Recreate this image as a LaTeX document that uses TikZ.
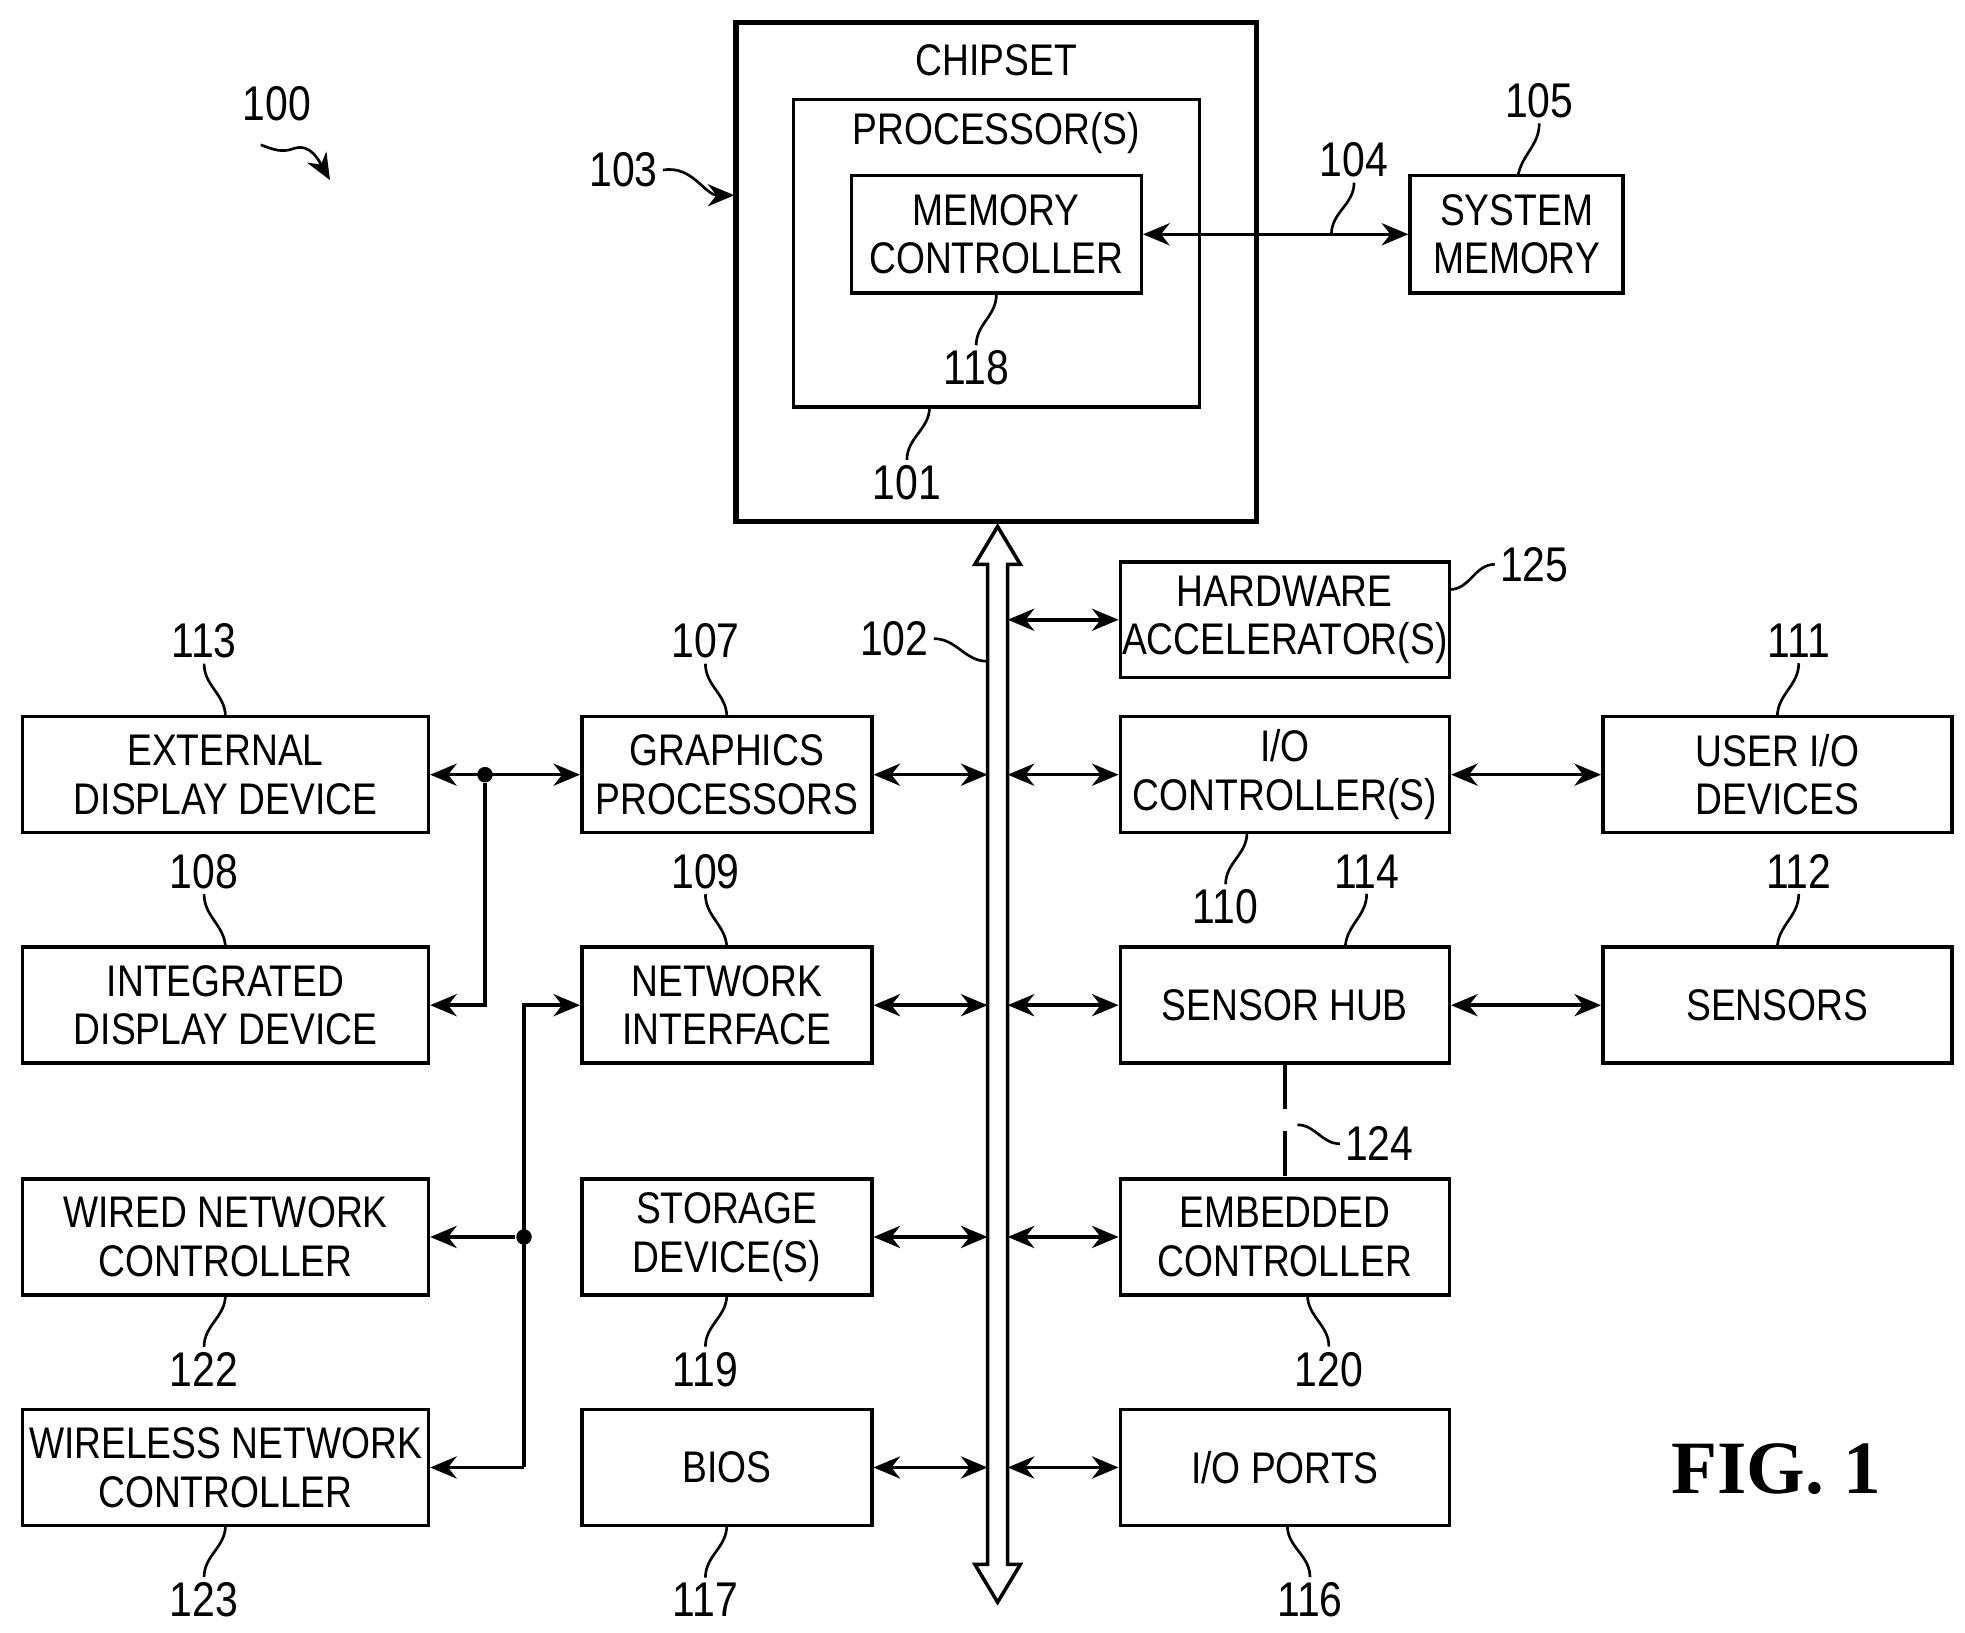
\documentclass[tikz,border=0pt]{standalone}
\usepackage{fontspec}
\setmainfont{Liberation Sans}[FakeStretch=0.84]
\usetikzlibrary{arrows.meta}
\tikzset{
  box/.style={draw, thick, align=center, inner sep=0pt, font=\fontsize{10}{11}\selectfont},
  num/.style={font=\fontsize{11}{12}\selectfont, inner sep=1pt},
  lead/.style={semithick},
  link/.style={thick, {Stealth[length=6pt,width=5pt]}-{Stealth[length=6pt,width=5pt]}},
  dot/.style={circle, fill, inner sep=0pt, minimum size=3.5pt}
}
\begin{document}
\begin{tikzpicture}[x=0.01cm, y=-0.01cm]
	\useasboundingbox (0,0) rectangle (1560,1296);
	% chipset
	\node[box, line width=1.2pt, minimum width=4.13cm, minimum height=3.96cm] (chip) at (791,216) {};
	\node[font=\fontsize{10}{11}\selectfont] (chiplbl) at (791,48) {CHIPSET};
	\node[box, minimum width=3.22cm, minimum height=2.44cm] (proc) at (791,201) {};
	\node[font=\fontsize{10}{11}\selectfont] (proclbl) at (791,106) {PROCESSOR(S)};
	\node[box, minimum width=2.30cm, minimum height=0.93cm] (memc) at (791,186) {MEMORY\\CONTROLLER};
	\node[box, minimum width=1.69cm, minimum height=0.93cm] (smem) at (1204,186) {SYSTEM\\MEMORY};
	\draw[link] (memc.east) -- (smem.west);
	% bus
	\coordinate (busT) at (792,418);
	\coordinate (busB) at (792,1272);
	\draw[thick] (busT) -- (810,448) -- (800,448) -- (800,1242) -- (810,1242) -- (busB)
		-- (774,1242) -- (784,1242) -- (784,448) -- (774,448) -- cycle;
	\coordinate (busL) at (784,0);
	\coordinate (busR) at (800,0);
	% left column
	\node[box, minimum width=3.22cm, minimum height=0.92cm] (ext) at (179,615) {EXTERNAL\\DISPLAY DEVICE};
	\node[box, minimum width=3.22cm, minimum height=0.92cm] (intd) at (179,798) {INTEGRATED\\DISPLAY DEVICE};
	\node[box, minimum width=3.22cm, minimum height=0.92cm] (wired) at (179,982) {WIRED NETWORK\\CONTROLLER};
	\node[box, minimum width=3.22cm, minimum height=0.92cm] (wless) at (179,1165) {WIRELESS NETWORK\\CONTROLLER};
	% middle column
	\node[box, minimum width=2.30cm, minimum height=0.92cm] (gfx) at (577,615) {GRAPHICS\\PROCESSORS};
	\node[box, minimum width=2.30cm, minimum height=0.92cm] (net) at (577,798) {NETWORK\\INTERFACE};
	\node[box, minimum width=2.30cm, minimum height=0.92cm] (stor) at (577,982) {STORAGE\\DEVICE(S)};
	\node[box, minimum width=2.30cm, minimum height=0.92cm] (bios) at (577,1165) {BIOS};
	% right column
	\node[box, minimum width=2.61cm, minimum height=0.92cm] (hwacc) at (1020,492) {HARDWARE\\ACCELERATOR(S)};
	\node[box, minimum width=2.61cm, minimum height=0.92cm] (ioc) at (1020,615) {I/O\\CONTROLLER(S)};
	\node[box, minimum width=2.61cm, minimum height=0.92cm] (shub) at (1020,798) {SENSOR HUB};
	\node[box, minimum width=2.61cm, minimum height=0.92cm] (emb) at (1020,982) {EMBEDDED\\CONTROLLER};
	\node[box, minimum width=2.61cm, minimum height=0.92cm] (iop) at (1020,1165) {I/O PORTS};
	\node[box, minimum width=2.77cm, minimum height=0.92cm] (uio) at (1411,615) {USER I/O\\DEVICES};
	\node[box, minimum width=2.77cm, minimum height=0.92cm] (sens) at (1411,798) {SENSORS};
	% bus links
	\foreach \n in {gfx,net,stor,bios}
		\draw[link] (\n.east) -- (\n.east -| busL);
	\foreach \n in {hwacc,ioc,shub,emb,iop}
		\draw[link] (\n.west -| busR) -- (\n.west);
	\draw[link] (ioc.east) -- (uio.west);
	\draw[link] (shub.east) -- (sens.west);
	\draw[thick, dashed, dash pattern=on 10pt off 5pt] (shub.south) -- (emb.north);
	% display links
	\coordinate (dd) at (385,615);
	\draw[link] (ext.east) -- (gfx.west);
	\node[dot] (ddot) at (dd) {};
	\draw[thick, -{Stealth[length=6pt,width=5pt]}] (ddot) |- (intd.east);
	% network links
	\coordinate (nn) at (416,798);
	\node[dot] (ndot) at (416,982) {};
	\draw[thick, -{Stealth[length=6pt,width=5pt]}] (416,1165) -- (nn) -- (net.west);
	\draw[thick, -{Stealth[length=6pt,width=5pt]}] (ndot) -- (wired.east);
	\draw[thick, -{Stealth[length=6pt,width=5pt]}] (416,1165) -- (wless.east);
	% reference numbers
	\node[num] (n100) at (220,82) {100};
	\draw[lead, -{Stealth[length=6pt,width=5pt]}] (207,115) to[out=-20,in=200] (233,118) to[out=20,in=120] (262,143);
	\node[num] (n103) at (495,135) {103};
	\draw[lead, -{Stealth[length=6pt,width=5pt]}] (n103.east) to[out=10,in=180] (583,155);
	\node[num] (n105) at (1222,80) {105};
	\draw[lead] (n105.south) to[out=-90,in=80] (1205,140);
	\node[num] (n104) at (1075,127) {104};
	\draw[lead] (n104.south) to[out=-90,in=90] (1057,186);
	\node[num] (n118) at (775,292) {118};
	\draw[lead] (memc.south) to[out=-90,in=90] (n118.north);
	\node[num] (n101) at (720,383) {101};
	\draw[lead] (738,323) to[out=-90,in=90] (n101.north);
	\node[num] (n102) at (710,507) {102};
	\draw[lead] (n102.east) to[out=0,in=180] (784,525);
	\node[num] (n125) at (1218,448) {125};
	\draw[lead] (1151,468) to[out=0,in=180] (n125.west);
	\node[num] (n113) at (162,509) {113};
	\draw[lead] (n113.south) to[out=-90,in=90] (179,569);
	\node[num] (n107) at (560,509) {107};
	\draw[lead] (n107.south) to[out=-90,in=90] (577,569);
	\node[num] (n111) at (1428,509) {111};
	\draw[lead] (n111.south) to[out=-90,in=90] (1411,569);
	\node[num] (n108) at (162,692) {108};
	\draw[lead] (n108.south) to[out=-90,in=90] (179,753);
	\node[num] (n109) at (560,692) {109};
	\draw[lead] (n109.south) to[out=-90,in=90] (577,753);
	\node[num] (n110) at (973,720) {110};
	\draw[lead] (990,661) to[out=-90,in=90] (n110.north);
	\node[num] (n114) at (1085,692) {114};
	\draw[lead] (n114.south) to[out=-90,in=90] (1068,753);
	\node[num] (n112) at (1428,692) {112};
	\draw[lead] (n112.south) to[out=-90,in=90] (1411,753);
	\node[num] (n124) at (1095,908) {124};
	\draw[lead] (1030,893) to[out=0,in=180] (n124.west);
	\node[num] (n122) at (162,1087) {122};
	\draw[lead] (179,1028) to[out=-90,in=90] (n122.north);
	\node[num] (n119) at (560,1087) {119};
	\draw[lead] (577,1028) to[out=-90,in=90] (n119.north);
	\node[num] (n120) at (1055,1087) {120};
	\draw[lead] (1038,1028) to[out=-90,in=90] (n120.north);
	\node[num] (n123) at (162,1270) {123};
	\draw[lead] (179,1211) to[out=-90,in=90] (n123.north);
	\node[num] (n117) at (560,1270) {117};
	\draw[lead] (577,1211) to[out=-90,in=90] (n117.north);
	\node[num] (n116) at (1040,1270) {116};
	\draw[lead] (1022,1211) to[out=-90,in=90] (n116.north);
	\node[font=\fontsize{17}{20}\selectfont\bfseries\fontspec{Liberation Serif}] (fig) at (1410,1166) {FIG. 1};
\end{tikzpicture}
\end{document}
